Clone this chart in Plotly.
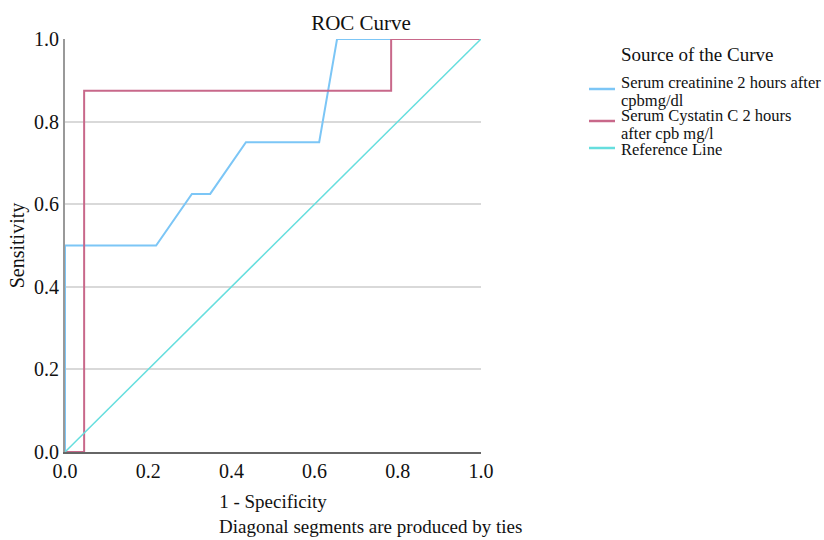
import plotly.graph_objects as go

creat_fpr = [0.0, 0.0, 0.219, 0.305, 0.349, 0.435, 0.611, 0.654, 1.0]
creat_tpr = [0.0, 0.5, 0.5, 0.625, 0.625, 0.75, 0.75, 1.0, 1.0]
cyst_fpr = [0.0, 0.046, 0.046, 0.784, 0.784, 1.0]
cyst_tpr = [0.0, 0.0, 0.875, 0.875, 1.0, 1.0]
ref_x = [0.0, 1.0]
ref_y = [0.0, 1.0]
ticks = [0.0, 0.2, 0.4, 0.6, 0.8, 1.0]
tick_text = ["0.0", "0.2", "0.4", "0.6", "0.8", "1.0"]
series_names = [["Serum creatinine 2 hours after", "cpbmg/dl"],
                ["Serum Cystatin C 2 hours", "after cpb mg/l"],
                ["Reference Line"]]
colors = ["#7cc6f6", "#c8688a", "#66dede"]

FONT = "Liberation Serif"
W, H = 824, 540
L, R, T, B = 65, 343, 39, 88
PW, PH = W - L - R, H - T - B

def px(xp):
    return (xp - L) / PW

def py(yp):
    return (H - B - yp) / PH

fig = go.Figure()
fig.add_trace(go.Scatter(x=creat_fpr, y=creat_tpr, mode="lines",
                         name=" ".join(series_names[0]),
                         line=dict(color=colors[0], width=2)))
fig.add_trace(go.Scatter(x=cyst_fpr, y=cyst_tpr, mode="lines",
                         name=" ".join(series_names[1]),
                         line=dict(color=colors[1], width=2)))
fig.add_trace(go.Scatter(x=ref_x, y=ref_y, mode="lines",
                         name=series_names[2][0],
                         line=dict(color=colors[2], width=1.5)))

# manual legend (tight line spacing as in reference)
annotations = []
shapes = []
annotations.append(dict(text="Source of the Curve", xref="paper", yref="paper",
                        x=px(619), y=py(54), xanchor="left", yanchor="middle",
                        showarrow=False, font=dict(family=FONT, size=19, color="#111")))
text_rows = [[82, 100], [116, 133], [149]]
line_rows = [89, 121, 148]
for names, rows, ly, c in zip(series_names, text_rows, line_rows, colors):
    for t, ty in zip(names, rows):
        annotations.append(dict(text=t, xref="paper", yref="paper", x=px(619), y=py(ty),
                                xanchor="left", yanchor="middle", showarrow=False,
                                font=dict(family=FONT, size=16.5, color="#111")))
    shapes.append(dict(type="line", xref="paper", yref="paper", x0=px(589), x1=px(615),
                       y0=py(ly), y1=py(ly), line=dict(color=c, width=2.5)))

annotations.append(dict(text="Diagonal segments are produced by ties", xref="paper", yref="paper",
                        x=px(217), y=py(526), xanchor="left", yanchor="middle",
                        showarrow=False, font=dict(family=FONT, size=19, color="#111")))

fig.update_layout(
    width=W, height=H,
    margin=dict(l=L, r=R, t=T, b=B),
    paper_bgcolor="white", plot_bgcolor="white",
    showlegend=False,
    font=dict(family=FONT, color="#111", size=17),
    title=dict(text="ROC Curve", x=361/W, xanchor="center", y=1 - 23/H, yanchor="middle",
               font=dict(family=FONT, size=21, color="#111")),
    xaxis=dict(range=[0, 1], tickvals=ticks, ticktext=tick_text, showgrid=False,
               zeroline=False, showline=True, linecolor="#666", linewidth=2,
               ticks="", tickfont=dict(family=FONT, size=20, color="#111"),
               title=dict(text="1 - Specificity", font=dict(family=FONT, size=19), standoff=14)),
    yaxis=dict(range=[0, 1], tickvals=ticks, ticktext=tick_text, showgrid=True,
               gridcolor="#d9d9d9", gridwidth=2, zeroline=False, showline=True,
               linecolor="#999", linewidth=2, ticks="",
               tickfont=dict(family=FONT, size=20, color="#111"),
               title=dict(text="Sensitivity", font=dict(family=FONT, size=20), standoff=4)),
    annotations=annotations,
    shapes=shapes,
)

fig.write_html("out.html", config={"displayModeBar": False},
               post_script="document.body.style.margin='0px';document.body.style.padding='0px';")
